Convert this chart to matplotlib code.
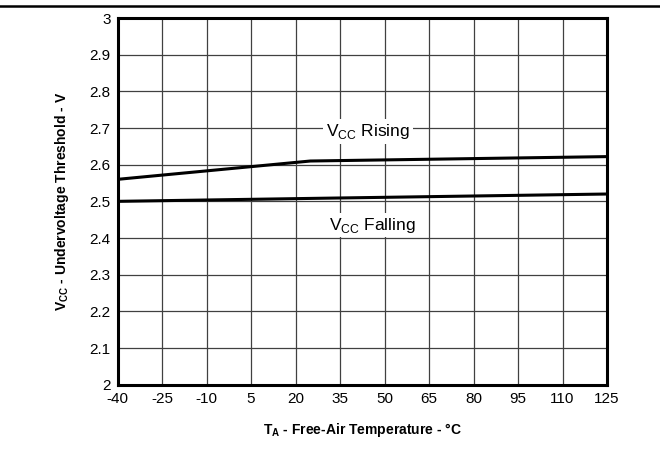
import numpy as np
import matplotlib
matplotlib.use("Agg")
import matplotlib.pyplot as plt
from matplotlib.lines import Line2D

plt.rcParams['font.family'] = ['Liberation Sans', 'DejaVu Sans']
plt.rcParams['mathtext.fontset'] = 'custom'
plt.rcParams['mathtext.rm'] = 'Liberation Sans'
plt.rcParams['mathtext.bf'] = 'Liberation Sans:bold'

# data
temp = [-40, 25, 125]
vcc_rising = [2.56, 2.61, 2.622]
vcc_falling = [2.50, 2.508, 2.52]

x_ticks = [-40, -25, -10, 5, 20, 35, 50, 65, 80, 95, 110, 125]
y_ticks = [2, 2.1, 2.2, 2.3, 2.4, 2.5, 2.6, 2.7, 2.8, 2.9, 3]

fig = plt.figure(figsize=(6.6, 4.7), dpi=100)
ax = fig.add_axes([117.5/660, 1 - 384.7/470, (607 - 117.5)/660, (384.7 - 18)/470])

ax.plot(temp, vcc_rising, color='black', lw=2.2, zorder=3)
ax.plot(temp, vcc_falling, color='black', lw=2.2, zorder=3)

ax.set_xlim(-40, 125)
ax.set_ylim(2, 3)
ax.set_xticks(x_ticks)
ax.set_xticklabels([str(t) for t in x_ticks])
ax.set_yticks(y_ticks)
ax.set_yticklabels(['2' if v == 2 else '3' if v == 3 else f"{v:.1f}" for v in y_ticks])
ax.tick_params(length=0, labelsize=11, pad=5)
ax.grid(True, color='#404040', lw=0.9)
ax.set_axisbelow(True)
for s in ax.spines.values():
    s.set_linewidth(2.2)

ax.set_xlabel(r"T$_\mathbf{A}$ - Free-Air Temperature - °C", fontsize=10, fontweight='bold', labelpad=11)
ax.set_ylabel(r"V$_\mathbf{CC}$ - Undervoltage Threshold - V", fontsize=10, fontweight='bold', labelpad=13)

bb = dict(facecolor='white', edgecolor='none', pad=2)
ax.text(44.5, 2.69, r"V$_\mathregular{CC}$ Rising", fontsize=12.5, ha='center', va='center', bbox=bb, zorder=4)
ax.text(46, 2.435, r"V$_\mathregular{CC}$ Falling", fontsize=12.5, ha='center', va='center', bbox=bb, zorder=4)

fig.add_artist(Line2D([0, 1], [1 - 6/470, 1 - 6/470], color='black', lw=1.8, transform=fig.transFigure))

fig.savefig('out.png', dpi=100)
